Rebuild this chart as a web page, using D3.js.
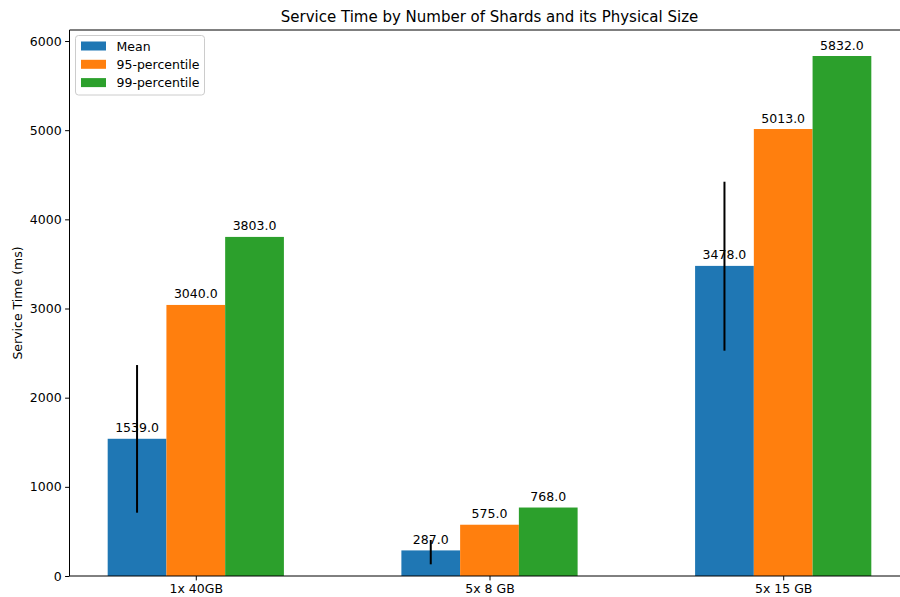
<!DOCTYPE html>
<html>
<head>
<meta charset="utf-8">
<script src="https://cdn.jsdelivr.net/npm/d3@7"></script>
<style>
  html, body { margin: 0; padding: 0; background: #fff; }
  svg { display: block; }
  text { font-family: "DejaVu Sans", sans-serif; fill: #000; }
</style>
</head>
<body>
<svg id="chart" width="900" height="597"></svg>
<script>
// ---- data ----
const categories = ["1x 40GB", "5x 8 GB", "5x 15 GB"];
const seriesNames = ["Mean", "95-percentile", "99-percentile"];
const meanValues = [1539.0, 287.0, 3478.0];
const p95Values = [3040.0, 575.0, 5013.0];
const p99Values = [3803.0, 768.0, 5832.0];
const meanErrLow = [710, 131, 2527];
const meanErrHigh = [2366, 404, 4422];
const yTicks = [0, 1000, 2000, 3000, 4000, 5000, 6000];
const colors = ["#1f77b4", "#ff7f0e", "#2ca02c"];

const series = [meanValues, p95Values, p99Values];

const svg = d3.select("#chart");
const pLeft = 69.5, pRight = 909.5, pTop = 30, pBottom = 576;

const barW = 0.2;
const x = d3.scaleLinear().domain([-0.43, 2.43]).range([pLeft, pRight]);
const y = d3.scaleLinear().domain([0, 6123.6]).range([pBottom, pTop]);

// bars
series.forEach((vals, si) => {
  const offset = (si - 1) * barW;
  svg.append("g").selectAll("rect").data(vals).join("rect")
    .attr("x", (d, i) => x(i + offset - barW / 2))
    .attr("width", x(barW) - x(0))
    .attr("y", d => y(d))
    .attr("height", d => y(0) - y(d))
    .attr("fill", colors[si]);
});

// error bars on mean
svg.append("g").selectAll("line").data(meanValues).join("line")
  .attr("x1", (d, i) => x(i - barW))
  .attr("x2", (d, i) => x(i - barW))
  .attr("y1", (d, i) => y(meanErrLow[i]))
  .attr("y2", (d, i) => y(meanErrHigh[i]))
  .attr("stroke", "#000")
  .attr("stroke-width", 2);

// value labels
series.forEach((vals, si) => {
  const offset = (si - 1) * barW;
  svg.append("g").selectAll("text").data(vals).join("text")
    .attr("x", (d, i) => x(i + offset))
    .attr("y", d => y(d) - 6.5)
    .attr("text-anchor", "middle")
    .attr("font-size", "12.5px")
    .text(d => d.toFixed(1));
});

// axes
const yAxis = d3.axisLeft(y).tickValues(yTicks).tickSize(4.4).tickPadding(3.5).tickFormat(d3.format("d"));
const gy = svg.append("g").attr("transform", `translate(${pLeft},0)`).call(yAxis);
gy.select(".domain").remove();
gy.selectAll("text").attr("font-size", "12.5px").attr("font-family", "DejaVu Sans, sans-serif").attr("fill", "#000");
gy.selectAll("line").attr("stroke", "#000");

const xAxis = d3.axisBottom(x).tickValues([0, 1, 2]).tickSize(4.4).tickPadding(3.5).tickFormat(i => categories[i]);
const gx = svg.append("g").attr("transform", `translate(0,${pBottom})`).call(xAxis);
gx.select(".domain").remove();
gx.selectAll("text").attr("font-size", "12.5px").attr("font-family", "DejaVu Sans, sans-serif").attr("fill", "#000");
gx.selectAll("line").attr("stroke", "#000");

// spines
svg.append("line").attr("x1", pLeft).attr("x2", pLeft).attr("y1", pTop).attr("y2", pBottom).attr("stroke", "#000").attr("stroke-width", 1);
svg.append("line").attr("x1", pLeft).attr("x2", pRight).attr("y1", pBottom).attr("y2", pBottom).attr("stroke", "#000").attr("stroke-width", 1);
svg.append("line").attr("x1", pLeft).attr("x2", pRight).attr("y1", pTop).attr("y2", pTop).attr("stroke", "#000").attr("stroke-width", 1);
svg.append("line").attr("x1", pRight).attr("x2", pRight).attr("y1", pTop).attr("y2", pBottom).attr("stroke", "#000").attr("stroke-width", 1);

// title
svg.append("text")
  .attr("x", (pLeft + pRight) / 2)
  .attr("y", 22)
  .attr("text-anchor", "middle")
  .attr("font-size", "15px")
  .text("Service Time by Number of Shards and its Physical Size");

// y label
svg.append("text")
  .attr("transform", `translate(22,${(pTop + pBottom) / 2}) rotate(-90)`)
  .attr("text-anchor", "middle")
  .attr("font-size", "12.5px")
  .text("Service Time (ms)");

// legend
const lg = svg.append("g");
lg.append("rect")
  .attr("x", 75.5).attr("y", 35.5).attr("width", 129).attr("height", 59.5)
  .attr("rx", 3).attr("fill", "#fff").attr("fill-opacity", 0.8)
  .attr("stroke", "#cccccc").attr("stroke-width", 1);
seriesNames.forEach((name, i) => {
  const cy = 46 + i * 18.3;
  lg.append("rect").attr("x", 81).attr("y", cy - 4.5).attr("width", 25).attr("height", 9).attr("fill", colors[i]);
  lg.append("text").attr("x", 116.5).attr("y", cy + 4.5).attr("font-size", "12.5px").text(name);
});
</script>
</body>
</html>
